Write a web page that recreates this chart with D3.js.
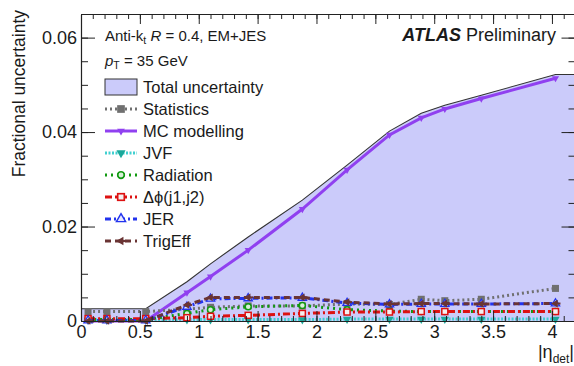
<!DOCTYPE html>
<html>
<head>
<meta charset="utf-8">
<script src="https://cdn.jsdelivr.net/npm/d3@7"></script>
<style>
  body { margin: 0; background: #fff; }
  svg { display: block; }
  text { font-family: "Liberation Sans", Arial, Helvetica, sans-serif; fill: #1a1a1a; }
</style>
</head>
<body>
<svg id="chart" width="574" height="366"></svg>
<script>
// |eta_det| bin centres and the fractional uncertainty of each source
const eta       = [0.06, 0.22, 0.55, 0.90, 1.10, 1.42, 1.88, 2.26, 2.62, 2.89, 3.09, 3.40, 4.03];
const totalUnc  = [0.0026, 0.0026, 0.0026, 0.0083, 0.0121, 0.0178, 0.0256, 0.0330, 0.0402, 0.0440, 0.0457, 0.0478, 0.0522];
const statUnc   = [0.0020, 0.0020, 0.0020, 0.0025, 0.0029, 0.0032, 0.0032, 0.0036, 0.0035, 0.0046, 0.0043, 0.0046, 0.0069];
const mcUnc     = [0.0000, 0.0000, 0.0000, 0.0060, 0.0094, 0.0150, 0.0237, 0.0320, 0.0394, 0.0430, 0.0449, 0.0471, 0.0514];
const jvfUnc    = [0.0002, 0.0002, 0.0002, 0.0003, 0.0003, 0.0003, 0.0003, 0.0004, 0.0004, 0.0004, 0.0004, 0.0004, 0.0004];
const radUnc    = [0.0003, 0.0003, 0.0003, 0.0016, 0.0024, 0.0030, 0.0033, 0.0024, 0.0021, 0.0020, 0.0020, 0.0020, 0.0020];
const dphiUnc   = [0.0005, 0.0005, 0.0005, 0.0007, 0.0010, 0.0012, 0.0016, 0.0019, 0.0019, 0.0020, 0.0020, 0.0020, 0.0020];
const jerUnc    = [0.0001, 0.0001, 0.0001, 0.0030, 0.0047, 0.0048, 0.0049, 0.0038, 0.0035, 0.0036, 0.0036, 0.0036, 0.0037];
const trigUnc   = [0.0000, 0.0000, 0.0000, 0.0034, 0.0050, 0.0050, 0.0050, 0.0040, 0.0036, 0.0037, 0.0037, 0.0036, 0.0037];

const xTickValues = [0, 0.5, 1, 1.5, 2, 2.5, 3, 3.5, 4];
const xTickLabels = ["0", "0.5", "1", "1.5", "2", "2.5", "3", "3.5", "4"];
const yTickValues = [0, 0.02, 0.04, 0.06];
const yTickLabels = ["0", "0.02", "0.04", "0.06"];

const legendLabels = ["Total uncertainty", "Statistics", "MC modelling", "JVF", "Radiation", "\u0394\u03d5(j1,j2)", "JER", "TrigEff"];

// drawing style of each component (same order as legendLabels after the band)
const bandFill = "#cbcbfa";
const componentStyles = [
  { values: statUnc, color: "#707070", dash: "2,3",     width: 3,   marker: "square" },
  { values: mcUnc,   color: "#9040f0", dash: null,      width: 3,   marker: "triDown" },
  { values: jvfUnc,  color: "#40d0d0", dash: "2,1.5",   width: 3,   marker: "triDownFill" },
  { values: radUnc,  color: "#119911", dash: "2,4",     width: 3,   marker: "circleOpen" },
  { values: dphiUnc, color: "#dd1111", dash: "7,3,2,3", width: 3,   marker: "squareOpen" },
  { values: jerUnc,  color: "#2233ee", dash: "6,3,2,3", width: 3,   marker: "triOpen" },
  { values: trigUnc, color: "#6a3434", dash: "6,4",     width: 3,   marker: "arrowLeft" }
];

const svg = d3.select("#chart");
const x = d3.scaleLinear().domain([0, 4.2]).range([81, 575.5]);
const y = d3.scaleLinear().domain([0, 0.065]).range([321, 14]);

// ---- total uncertainty band, extended flat to the axis limits ----
const bandPts = [{ e: x.domain()[0], v: totalUnc[0] }]
  .concat(eta.map((e, i) => ({ e, v: totalUnc[i] })))
  .concat([{ e: x.domain()[1], v: totalUnc[totalUnc.length - 1] }]);

svg.append("path")
  .datum(bandPts)
  .attr("fill", bandFill)
  .attr("d", d3.area().x(d => x(d.e)).y0(y(0)).y1(d => y(d.v)));

svg.append("path")
  .datum(bandPts)
  .attr("fill", "none")
  .attr("stroke", "#333")
  .attr("stroke-width", 1.1)
  .attr("d", d3.line().x(d => x(d.e)).y(d => y(d.v)));

// ---- marker shapes ----
function drawMarker(g, type, cx, cy, color, scale) {
  const s = scale || 1;
  const m = g.append("g").attr("transform", `translate(${cx},${cy}) scale(${s})`);
  switch (type) {
    case "square":
      m.append("rect").attr("x", -3.5).attr("y", -3.5).attr("width", 7).attr("height", 7).attr("fill", color);
      break;
    case "squareOpen":
      m.append("rect").attr("x", -3).attr("y", -3).attr("width", 6).attr("height", 6)
        .attr("fill", "#f4f0f0").attr("stroke", color).attr("stroke-width", 1.5);
      break;
    case "triDown":
      m.append("path").attr("d", d3.symbol(d3.symbolTriangle, 22)()).attr("transform", "rotate(180)").attr("fill", color);
      break;
    case "triDownFill":
      m.append("path").attr("d", d3.symbol(d3.symbolTriangle, 30)()).attr("transform", "rotate(180)").attr("fill", "#1aa89a");
      break;
    case "triOpen":
      m.append("path").attr("d", d3.symbol(d3.symbolTriangle, 30)()).attr("fill", "#e8e8ff")
        .attr("stroke", color).attr("stroke-width", 1.3);
      break;
    case "circleOpen":
      m.append("circle").attr("r", 3).attr("fill", "#d8f0d8").attr("stroke", color).attr("stroke-width", 1.5);
      break;
    case "arrowLeft":
      m.append("path").attr("d", d3.symbol(d3.symbolTriangle, 26)()).attr("transform", "rotate(-90)").attr("fill", color);
      m.append("line").attr("x1", 0).attr("x2", 5).attr("y1", 0).attr("y2", 0).attr("stroke", color).attr("stroke-width", 2);
      break;
  }
}

// ---- component curves ----
const lineGen = d3.line().x(d => x(d.e)).y(d => y(d.v));
const plotG = svg.append("g");
// MC modelling first so the small components stay visible on top of it
const drawOrder = [1, 0, 2, 3, 4, 5, 6];
drawOrder.forEach(k => {
  const st = componentStyles[k];
  const pts = eta.map((e, i) => ({ e, v: st.values[i] }));
  plotG.append("path")
    .datum(pts)
    .attr("fill", "none")
    .attr("stroke", st.color)
    .attr("stroke-width", st.width)
    .attr("stroke-dasharray", st.dash)
    .attr("d", lineGen);
  pts.forEach(p => drawMarker(plotG, st.marker, x(p.e), y(p.v), st.color, 1));
});

// ---- axes (ticks pointing into the frame) ----
const xMinor = d3.range(0, 4.21, 0.1);
const yMinor = d3.range(0, 0.0651, 0.005);

function styleAxis(g) {
  g.selectAll("path.domain").attr("stroke", "#222").attr("stroke-width", 1.1);
  g.selectAll(".tick line").attr("stroke", "#222").attr("stroke-width", 1);
}

const axB = svg.append("g").attr("transform", `translate(0,${y(0)})`)
  .call(d3.axisBottom(x).tickValues(xTickValues).tickSize(-10).tickSizeOuter(0).tickPadding(4)
        .tickFormat((d, i) => xTickLabels[i]));
axB.selectAll("text").attr("font-size", 18).attr("fill", "#1a1a1a");
styleAxis(axB);
svg.append("g").attr("transform", `translate(0,${y(0)})`)
  .call(d3.axisBottom(x).tickValues(xMinor).tickSize(-5).tickSizeOuter(0).tickFormat(""))
  .call(styleAxis);

const axT = svg.append("g").attr("transform", `translate(0,${y.range()[1]})`)
  .call(d3.axisTop(x).tickValues(xTickValues).tickSize(-10).tickSizeOuter(0).tickFormat(""));
styleAxis(axT);
svg.append("g").attr("transform", `translate(0,${y.range()[1]})`)
  .call(d3.axisTop(x).tickValues(xMinor).tickSize(-5).tickSizeOuter(0).tickFormat(""))
  .call(styleAxis);

const axL = svg.append("g").attr("transform", `translate(${x(0)},0)`)
  .call(d3.axisLeft(y).tickValues(yTickValues).tickSize(-14).tickSizeOuter(0).tickPadding(4)
        .tickFormat((d, i) => yTickLabels[i]));
axL.selectAll("text").attr("font-size", 18).attr("fill", "#1a1a1a");
styleAxis(axL);
svg.append("g").attr("transform", `translate(${x(0)},0)`)
  .call(d3.axisLeft(y).tickValues(yMinor).tickSize(-7).tickSizeOuter(0).tickFormat(""))
  .call(styleAxis);

const axR = svg.append("g").attr("transform", `translate(${x.range()[1]},0)`)
  .call(d3.axisRight(y).tickValues(yTickValues).tickSize(-14).tickSizeOuter(0).tickFormat(""));
styleAxis(axR);
svg.append("g").attr("transform", `translate(${x.range()[1]},0)`)
  .call(d3.axisRight(y).tickValues(yMinor).tickSize(-7).tickSizeOuter(0).tickFormat(""))
  .call(styleAxis);

// ---- axis titles ----
svg.append("text")
  .attr("transform", "translate(24.5,10) rotate(-90)")
  .attr("text-anchor", "end")
  .attr("font-size", 17.5)
  .text("Fractional uncertainty");

const xt = svg.append("text").attr("x", 574).attr("y", 358).attr("text-anchor", "end").attr("font-size", 18);
xt.append("tspan").text("|\u03b7");
xt.append("tspan").attr("font-size", 12).attr("dy", 5).text("det");
xt.append("tspan").attr("dy", -5).text("|");

// ---- labels ----
const t1 = svg.append("text").attr("x", 105).attr("y", 41).attr("font-size", 15);
t1.append("tspan").text("Anti-k");
t1.append("tspan").attr("font-size", 10.5).attr("dy", 3).text("t");
t1.append("tspan").attr("dy", -3).text(" ");
t1.append("tspan").attr("font-style", "italic").text("R");
t1.append("tspan").text(" = 0.4, EM+JES");

const t2 = svg.append("text").attr("x", 105).attr("y", 66).attr("font-size", 15);
t2.append("tspan").attr("font-style", "italic").text("p");
t2.append("tspan").attr("font-size", 10.5).attr("dy", 3).text("T");
t2.append("tspan").attr("dy", -3).text(" = 35 GeV");

const atl = svg.append("text").attr("x", 556).attr("y", 41).attr("text-anchor", "end").attr("font-size", 18);
atl.append("tspan").attr("font-weight", "bold").attr("font-style", "italic").text("ATLAS");
atl.append("tspan").text(" Preliminary");

// ---- legend ----
const legX0 = 105, legX1 = 137, legText = 143, legY0 = 87, legStep = 22;
const leg = svg.append("g");
leg.append("rect").attr("x", legX0).attr("y", legY0 - 8).attr("width", legX1 - legX0).attr("height", 16)
  .attr("fill", bandFill).attr("stroke", "#333").attr("stroke-width", 1);
leg.append("text").attr("x", legText).attr("y", legY0).attr("dy", "0.35em").attr("font-size", 16.5).text(legendLabels[0]);
componentStyles.forEach((st, k) => {
  const cy = legY0 + (k + 1) * legStep;
  leg.append("line").attr("x1", legX0).attr("x2", legX1).attr("y1", cy).attr("y2", cy)
    .attr("stroke", st.color).attr("stroke-width", st.width).attr("stroke-dasharray", st.dash);
  drawMarker(leg, st.marker, (legX0 + legX1) / 2, cy, st.color, 1.1);
  leg.append("text").attr("x", legText).attr("y", cy).attr("dy", "0.35em").attr("font-size", 16.5).text(legendLabels[k + 1]);
});
</script>
</body>
</html>
